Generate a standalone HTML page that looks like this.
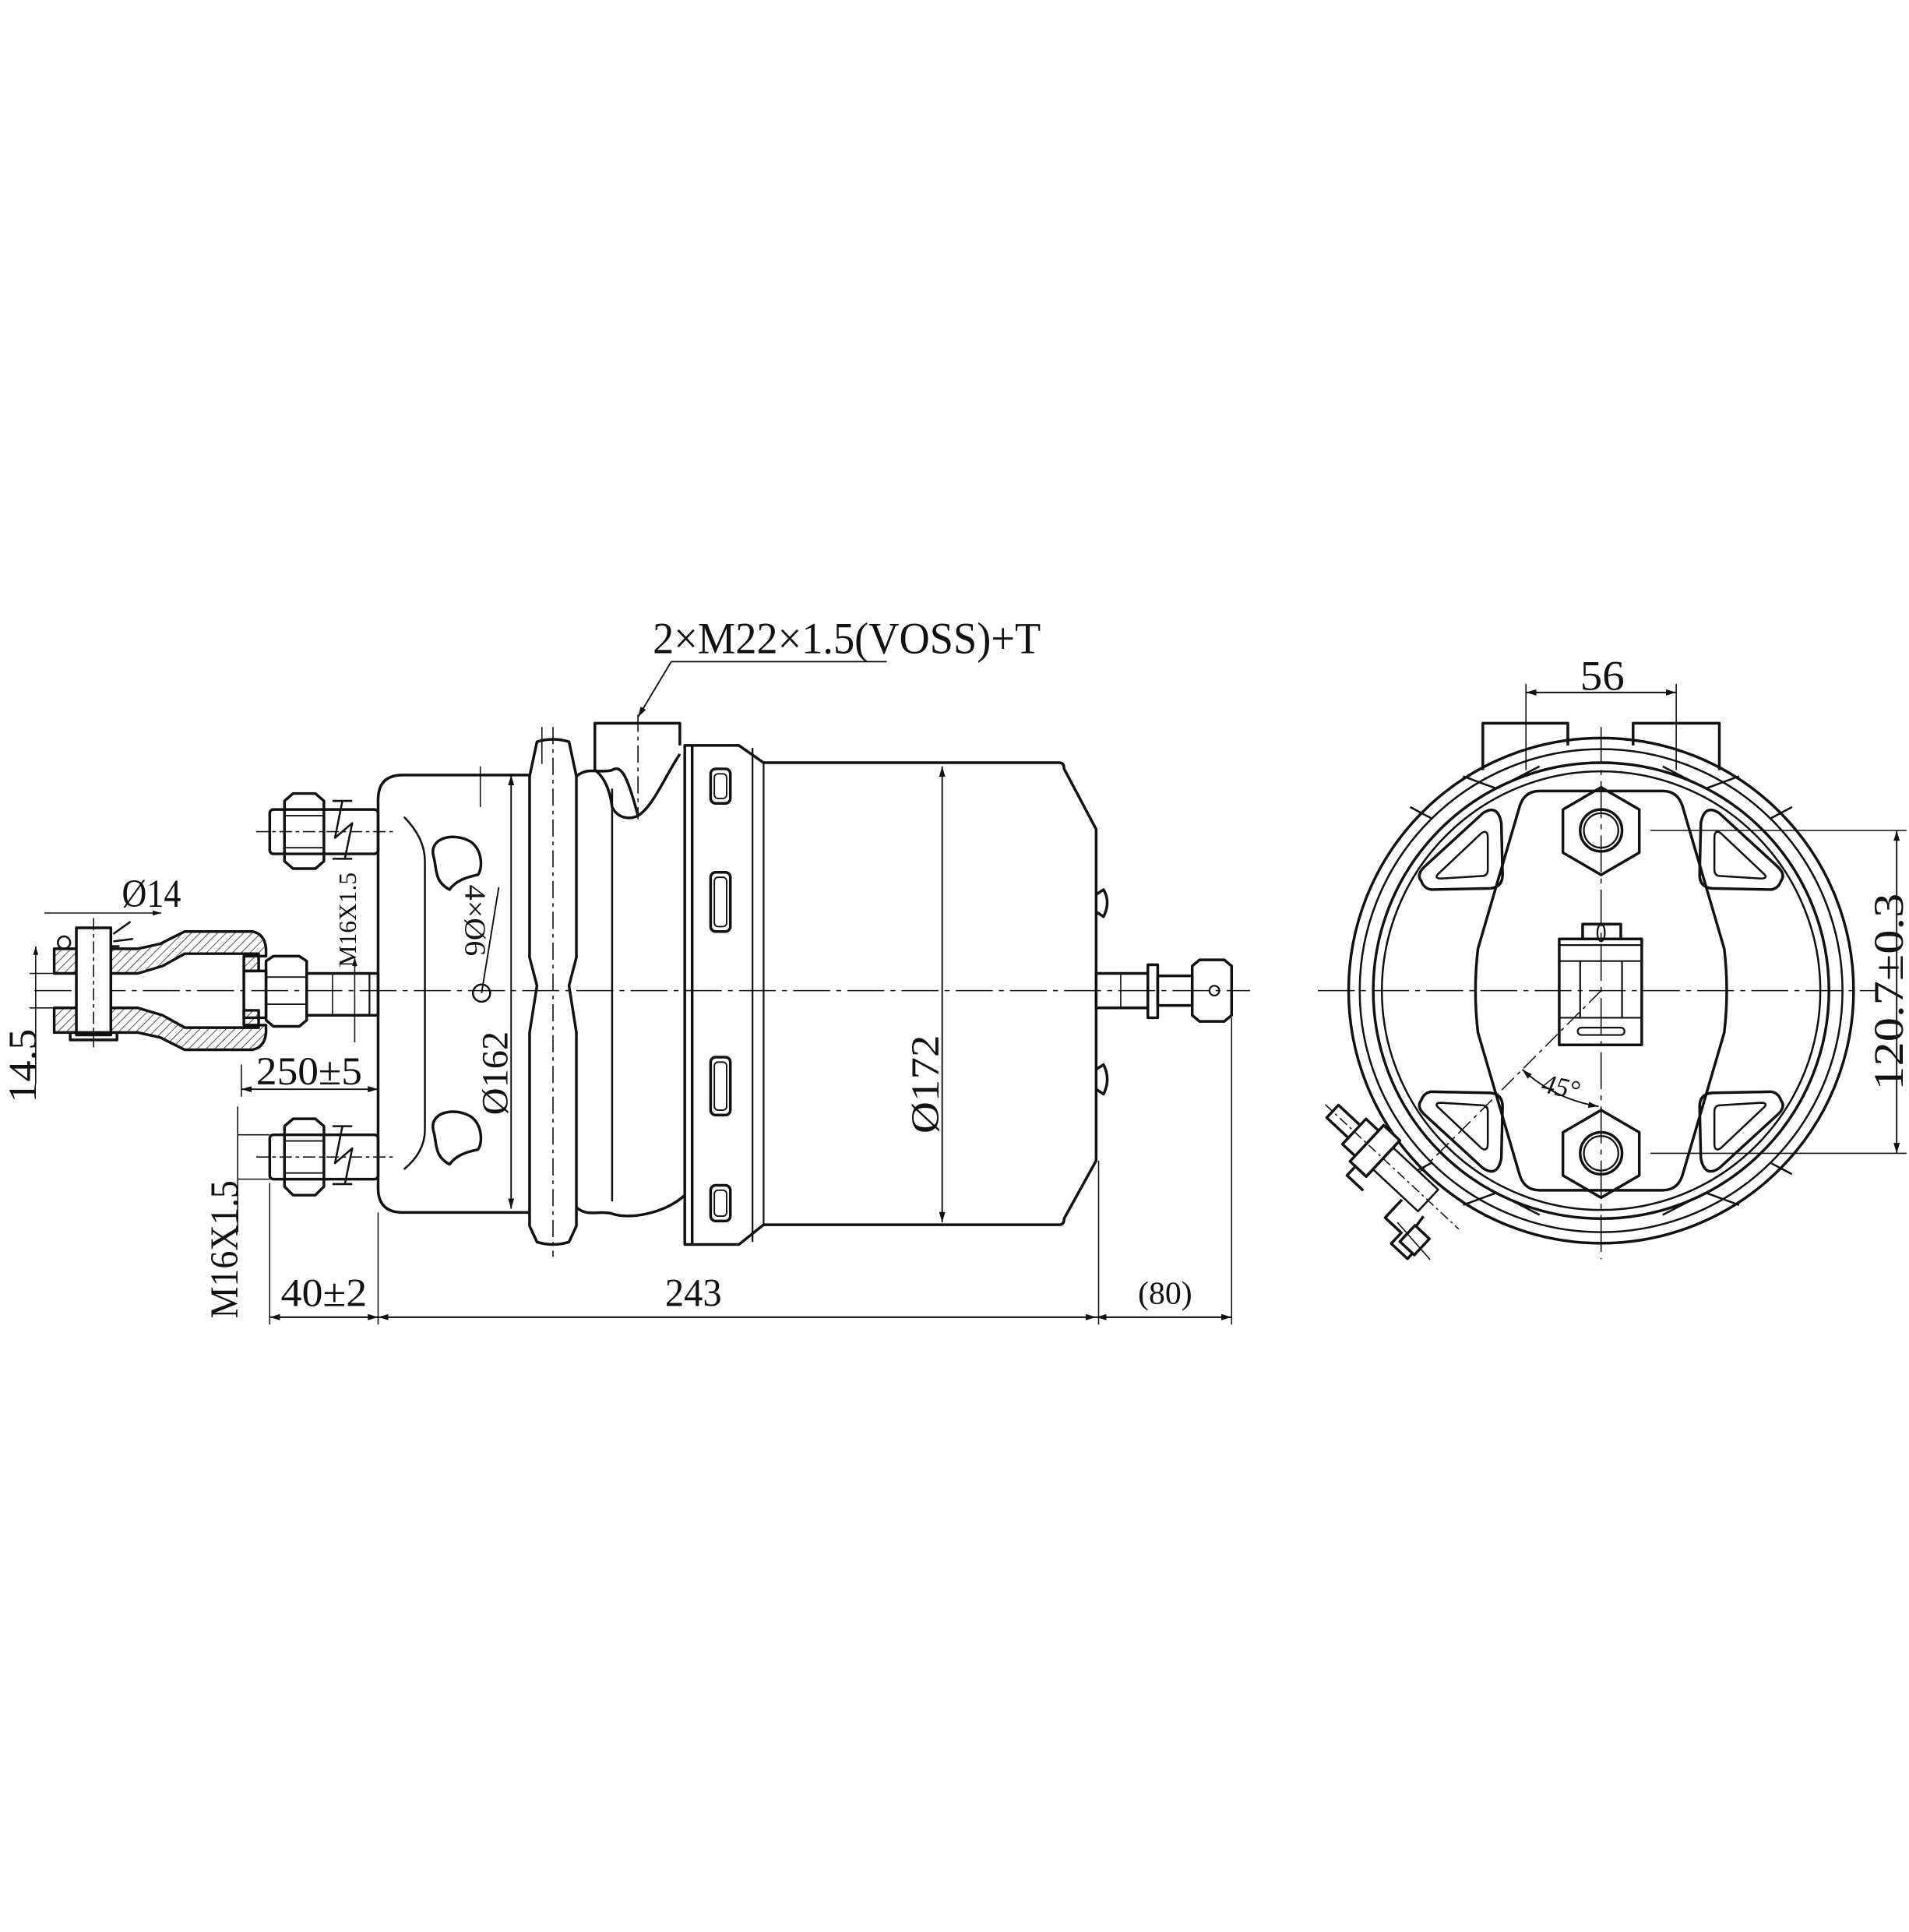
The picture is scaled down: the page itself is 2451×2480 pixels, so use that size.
<!DOCTYPE html>
<html><head><meta charset="utf-8"><style>
html,body{margin:0;padding:0;background:#fff}
svg{display:block}
text{font-family:"Liberation Serif",serif;fill:#111}
</style></head><body>
<svg width="2451" height="2480" viewBox="0 0 1550 1568" preserveAspectRatio="none" xmlns="http://www.w3.org/2000/svg">
<defs>
<pattern id="h" width="5" height="5" patternUnits="userSpaceOnUse" patternTransform="rotate(45)"><line x1="0" y1="0" x2="0" y2="5" stroke="#222" stroke-width="1"/></pattern>
<marker id="a" viewBox="0 0 10 10" refX="10" refY="5" markerWidth="7" markerHeight="7" orient="auto-start-reverse"><path d="M0,2 L10,5 L0,8z" fill="#111"/></marker>
</defs>
<g fill="none" stroke="#111" stroke-width="2.2" stroke-linejoin="round">
<line x1="28" y1="804" x2="1015" y2="804" stroke-width="1" stroke-dasharray="30 5 4 5"/>
<line x1="545" y1="537" x2="720" y2="537" stroke-width="1.2"/>
<line x1="545" y1="537" x2="518" y2="582" stroke-width="1.2" marker-end="url(#a)"/>
<path d="M552,605 L552,587 L483,587 L483,625 C490,630 495,640 497,655 C502,665 512,665 518,662 C530,655 540,630 552,612"/>
<line x1="518" y1="580" x2="518" y2="665" stroke-width="1" stroke-dasharray="14 4 3 4"/>
<path d="M556,605 L600,605 L620,619 L860,619 Q864,619 864,624 L890,673 L890,942 L864,989 Q864,994 860,994 L620,994 L600,1010 L556,1010 Z"/>
<line x1="562" y1="606" x2="562" y2="1009"/>
<line x1="611" y1="607" x2="611" y2="1008" stroke-width="1.4"/>
<line x1="620" y1="619" x2="620" y2="994" stroke-width="1.4"/>
<rect x="577" y="624" width="16" height="28" rx="4"/><rect x="580" y="628" width="10" height="20" rx="3" stroke-width="1.2"/>
<rect x="577" y="708" width="16" height="48" rx="4"/><rect x="580" y="712" width="10" height="40" rx="3" stroke-width="1.2"/>
<rect x="577" y="858" width="16" height="47" rx="4"/><rect x="580" y="862" width="10" height="39" rx="3" stroke-width="1.2"/>
<rect x="577" y="962" width="16" height="29" rx="4"/><rect x="580" y="966" width="10" height="21" rx="3" stroke-width="1.2"/>
<path d="M890,726 L896,722 Q902,732 896,744 L890,740"/><path d="M890,868 L896,864 Q902,876 896,888 L890,884"/>
<path d="M436,602 Q449,598 462,602 L468,630 L468,777 L462,800 L468,838 L468,995 L462,1008 Q449,1012 436,1008 L430,995 L430,838 L436,800 L430,777 L430,630 Z"/>
<path d="M468,630 C478,622 485,628 497,625 C505,620 510,632 518,662 M468,980 C478,988 485,982 497,985 C510,990 540,985 556,970"/>
<line x1="497" y1="640" x2="497" y2="975" stroke-width="1.6"/>
<line x1="449" y1="590" x2="449" y2="1020" stroke-width="1" stroke-dasharray="14 4 3 4"/>
<path d="M430,629 L327,629 Q307,629 307,649 L307,964 Q307,984 327,984 L430,984"/>
<path d="M328,663 Q345,680 345,699 L345,917 Q345,935 328,949" stroke-width="1.6"/>
<path d="M352,695 C348,680 368,675 382,683 C392,690 392,705 388,710 C378,712 370,715 365,722 C352,715 355,705 352,695Z"/>
<path d="M352,918 C348,903 368,898 382,906 C392,913 392,928 388,933 C378,935 370,938 365,945 C352,938 355,928 352,918Z"/>
<circle cx="391" cy="806" r="7" stroke-width="1.6"/>
<line x1="391" y1="806" x2="405" y2="720" stroke-width="1.2"/>
<line x1="415" y1="629" x2="415" y2="981" stroke-width="1.2" marker-start="url(#a)" marker-end="url(#a)"/>
<line x1="765" y1="622" x2="765" y2="992" stroke-width="1.2" marker-start="url(#a)" marker-end="url(#a)"/>
<line x1="390" y1="622" x2="390" y2="655" stroke-width="1"/><line x1="440" y1="590" x2="440" y2="620" stroke-width="1"/>
<rect x="219" y="657" width="88" height="36" rx="3"/>
<path d="M231,650 L238,644 L256,644 L263,650 L263,699 L256,705 L238,705 L231,699 Z"/><line x1="231" y1="662" x2="263" y2="662" stroke-width="1.2"/><line x1="231" y1="688" x2="263" y2="688" stroke-width="1.2"/>
<path d="M270,650 L286,650 M278,650 L272,680 L286,668 L280,697 M270,697 L286,697" stroke-width="1.6"/>
<line x1="208" y1="675" x2="320" y2="675" stroke-width="1" stroke-dasharray="10 3 3 3"/>
<rect x="219" y="921" width="88" height="36" rx="3"/>
<path d="M231,914 L238,908 L256,908 L263,914 L263,963 L256,970 L238,970 L231,963 Z"/><line x1="231" y1="926" x2="263" y2="926" stroke-width="1.2"/><line x1="231" y1="952" x2="263" y2="952" stroke-width="1.2"/>
<path d="M270,914 L286,914 M278,914 L272,944 L286,932 L280,961 M270,961 L286,961" stroke-width="1.6"/>
<line x1="208" y1="939" x2="320" y2="939" stroke-width="1" stroke-dasharray="10 3 3 3"/>
<rect x="249" y="790" width="58" height="34"/>
<line x1="270" y1="790" x2="270" y2="824" stroke-width="1"/><line x1="300" y1="790" x2="300" y2="824" stroke-width="1.4"/>
<path d="M216,780 L222,776 L243,776 L249,780 L249,828 L243,833 L222,833 L216,828 Z"/><line x1="216" y1="793" x2="249" y2="793" stroke-width="1.2"/><line x1="216" y1="815" x2="249" y2="815" stroke-width="1.2"/>
<rect x="198" y="788" width="18" height="38"/>
<path d="M44,770 L112,770 L130,766 L150,756 L205,756 Q215,758 216,770 L216,776 L198,776 L198,788 L210,788 L210,774 L150,774 L132,784 L112,790 L44,790 Z" fill="url(#h)"/>
<path d="M44,838 L112,838 L130,842 L150,852 L205,852 Q215,850 216,838 L216,832 L198,832 L198,820 L210,820 L210,834 L150,834 L132,824 L112,818 L44,818 Z" fill="url(#h)"/>
<rect x="62" y="753" width="28" height="87" fill="#fff"/>
<rect x="57" y="838" width="38" height="6"/>
<circle cx="52" cy="765" r="5" stroke-width="1.6"/>
<path d="M92,758 L106,748 M92,764 L108,762 M90,768 L97,768" stroke-width="1.6"/>
<line x1="76" y1="745" x2="76" y2="852" stroke-width="1" stroke-dasharray="10 3 3 3"/>
<rect x="890" y="790" width="42" height="28"/>
<path d="M932,783 L940,783 L940,826 L932,826 Z"/>
<rect x="940" y="792" width="28" height="24"/>
<path d="M968,784 L974,779 L994,779 L1000,784 L1000,824 L994,829 L974,829 L968,824 Z"/>
<circle cx="986" cy="804" r="4" stroke-width="1.4"/><line x1="910" y1="790" x2="910" y2="818" stroke-width="1"/>
<line x1="196" y1="884" x2="307" y2="884" stroke-width="1.2" marker-start="url(#a)" marker-end="url(#a)"/>
<line x1="196" y1="864" x2="196" y2="890" stroke-width="1"/>
<line x1="288" y1="777" x2="288" y2="846" stroke-width="1" marker-start="url(#a)"/>
<line x1="29" y1="768" x2="29" y2="880" stroke-width="1" marker-start="url(#a)"/>
<line x1="24" y1="790" x2="50" y2="790" stroke-width="1"/><line x1="24" y1="818" x2="50" y2="818" stroke-width="1"/>
<line x1="36" y1="741" x2="131" y2="741" stroke-width="1" marker-end="url(#a)"/>
<line x1="193" y1="898" x2="193" y2="1000" stroke-width="1"/>
<line x1="193" y1="921" x2="219" y2="921" stroke-width="1"/><line x1="193" y1="957" x2="219" y2="957" stroke-width="1"/>
<line x1="219" y1="1069" x2="1000" y2="1069" stroke-width="1.2"/>
<line x1="219" y1="1069" x2="307" y2="1069" stroke-width="1.2" marker-start="url(#a)" marker-end="url(#a)"/>
<line x1="307" y1="1069" x2="890" y2="1069" stroke-width="1.2" marker-start="url(#a)" marker-end="url(#a)"/>
<line x1="890" y1="1069" x2="1000" y2="1069" stroke-width="1.2" marker-start="url(#a)" marker-end="url(#a)"/>
<line x1="219" y1="960" x2="219" y2="1075" stroke-width="1"/><line x1="307" y1="984" x2="307" y2="1075" stroke-width="1"/>
<line x1="892" y1="942" x2="892" y2="1075" stroke-width="1"/><line x1="1000" y1="826" x2="1000" y2="1075" stroke-width="1"/>
</g>
<text x="530" y="530" font-size="36" textLength="315" lengthAdjust="spacingAndGlyphs">2×M22×1.5(VOSS)+T</text>
<text x="99" y="736" font-size="32" textLength="48" lengthAdjust="spacingAndGlyphs">Ø14</text>
<text x="208" y="880" font-size="32" textLength="86" lengthAdjust="spacingAndGlyphs">250±5</text>
<text x="228" y="1060" font-size="32" textLength="70" lengthAdjust="spacingAndGlyphs">40±2</text>
<text x="540" y="1060" font-size="32" textLength="46" lengthAdjust="spacingAndGlyphs">243</text>
<text x="924" y="1058" font-size="26" textLength="44" lengthAdjust="spacingAndGlyphs">(80)</text>
<text transform="translate(29,895) rotate(-90)" font-size="32" textLength="60" lengthAdjust="spacingAndGlyphs">14.5</text>
<text transform="translate(193,1070) rotate(-90)" font-size="32" textLength="112" lengthAdjust="spacingAndGlyphs">M16X1.5</text>
<text transform="translate(289,785) rotate(-90)" font-size="20" textLength="77" lengthAdjust="spacingAndGlyphs">M16X1.5</text>
<text transform="translate(412,905) rotate(-90)" font-size="30" textLength="68" lengthAdjust="spacingAndGlyphs">Ø162</text>
<text transform="translate(762,920) rotate(-90)" font-size="32" textLength="80" lengthAdjust="spacingAndGlyphs">Ø172</text>
<text transform="translate(378,718) rotate(90)" font-size="24" textLength="58" lengthAdjust="spacingAndGlyphs">4×Ø6</text>

<g fill="none" stroke="#111" stroke-width="2.2" stroke-linejoin="round">
<line x1="1070" y1="804" x2="1525" y2="804" stroke-width="1" stroke-dasharray="30 5 4 5"/>
<line x1="1300" y1="590" x2="1300" y2="1022" stroke-width="1" stroke-dasharray="30 5 4 5"/>
<path d="M1204,625 L1204,587 L1273,587 L1273,605"/>
<path d="M1326,605 L1326,587 L1396,587 L1396,625"/>
<line x1="1239" y1="562" x2="1361" y2="562" stroke-width="1.2" marker-start="url(#a)" marker-end="url(#a)"/>
<line x1="1239" y1="555" x2="1239" y2="625" stroke-width="1"/><line x1="1361" y1="555" x2="1361" y2="625" stroke-width="1"/>
<circle cx="1300" cy="804" r="205"/>
<circle cx="1300" cy="804" r="196" stroke-width="1.6"/>
<circle cx="1300" cy="804" r="185"/>
<circle cx="1300" cy="804" r="178" stroke-width="1.6"/>
<path d="M1162,664 L1145,655 M1438,664 L1455,655 M1162,944 L1145,953 M1438,944 L1455,953" stroke-width="1.6"/>
<path d="M1188,630 L1215,640 L1250,622 M1412,630 L1385,640 L1350,622 M1188,978 L1215,968 L1250,986 M1412,978 L1385,968 L1350,986" stroke-width="1.6"/>
<path d="M1250,642 L1350,642 Q1362,642 1366,654 L1400,770 Q1404,804 1400,838 L1366,954 Q1362,966 1350,966 L1250,966 Q1238,966 1234,954 L1200,838 Q1196,804 1200,770 L1234,654 Q1238,642 1250,642 Z"/>
<g id="tri">
<path d="M1154,715 Q1150,710 1156,704 L1204,660 Q1216,652 1219,668 L1220,710 Q1220,720 1210,721 L1162,722 Q1156,721 1154,715 Z"/>
<path d="M1167,710 L1203,676 Q1208,673 1208,680 L1208,706 Q1208,711 1203,711 L1170,713 Q1165,713 1167,710 Z" stroke-width="1.6"/>
</g>
<use href="#tri" transform="translate(2600,0) scale(-1,1)"/>
<use href="#tri" transform="translate(0,1608) scale(1,-1)"/>
<use href="#tri" transform="translate(2600,1608) scale(-1,-1)"/>
<path d="M1300,639 L1331,657 L1331,692 L1300,710 L1269,692 L1269,657 Z"/>
<circle cx="1300" cy="674" r="17"/><circle cx="1300" cy="674" r="14" stroke-width="1.4"/>
<path d="M1300,901 L1331,919 L1331,954 L1300,972 L1269,954 L1269,919 Z"/>
<circle cx="1300" cy="936" r="17"/><circle cx="1300" cy="936" r="14" stroke-width="1.4"/>
<line x1="1340" y1="674" x2="1548" y2="674" stroke-width="1"/>
<line x1="1340" y1="936" x2="1548" y2="936" stroke-width="1"/>
<line x1="1540" y1="674" x2="1540" y2="936" stroke-width="1.2" marker-start="url(#a)" marker-end="url(#a)"/>
<rect x="1266" y="762" width="67" height="86"/>
<rect x="1285" y="750" width="31" height="12"/>
<ellipse cx="1300" cy="757" rx="3" ry="7" stroke-width="1.4"/>
<line x1="1266" y1="767" x2="1333" y2="767" stroke-width="1.4"/>
<line x1="1266" y1="780" x2="1333" y2="780" stroke-width="1.4"/>
<line x1="1266" y1="826" x2="1333" y2="826" stroke-width="1.4"/>
<line x1="1283" y1="780" x2="1283" y2="826" stroke-width="1.4"/><line x1="1317" y1="780" x2="1317" y2="826" stroke-width="1.4"/>
<rect x="1281" y="834" width="38" height="6" rx="3" stroke-width="1.4"/>
<line x1="1300" y1="804" x2="1140" y2="964" stroke-width="1" stroke-dasharray="14 4 3 4"/>
<path d="M1236,868 Q1262,892 1298,898" stroke-width="1.2" marker-start="url(#a)" marker-end="url(#a)"/>
<!-- adjuster along 45deg axis from top-left -->
<g transform="translate(1082,902) rotate(43)">
<rect x="0" y="-7" width="32" height="14" fill="#fff"/>
<rect x="24" y="-14" width="16" height="28" fill="#fff"/>
<rect x="38" y="-20" width="18" height="40" fill="#fff"/>
<rect x="56" y="-12" width="50" height="24" fill="#fff" stroke-width="1.6"/>
<path d="M56,-20 L56,20 L44,20 L44,30 L62,30" />
<path d="M90,14 L90,34 L108,34 L108,46 L126,46 L126,30 L114,30 L112,12"/>
<rect x="112" y="22" width="16" height="18" fill="#fff"/>
<line x1="-8" y1="0" x2="140" y2="0" stroke-width="1" stroke-dasharray="8 3 2 3"/>
<line x1="100" y1="30" x2="140" y2="34" stroke-width="1"/>
</g>
</g>
<text x="1252" y="890" font-size="22" font-style="italic" transform="rotate(12 1270 882)">45°</text>
<text x="1283" y="560" font-size="34" textLength="36" lengthAdjust="spacingAndGlyphs">56</text>
<text transform="translate(1545,885) rotate(-90)" font-size="34" textLength="160" lengthAdjust="spacingAndGlyphs">120.7±0.3</text>
</svg>
</body></html>
